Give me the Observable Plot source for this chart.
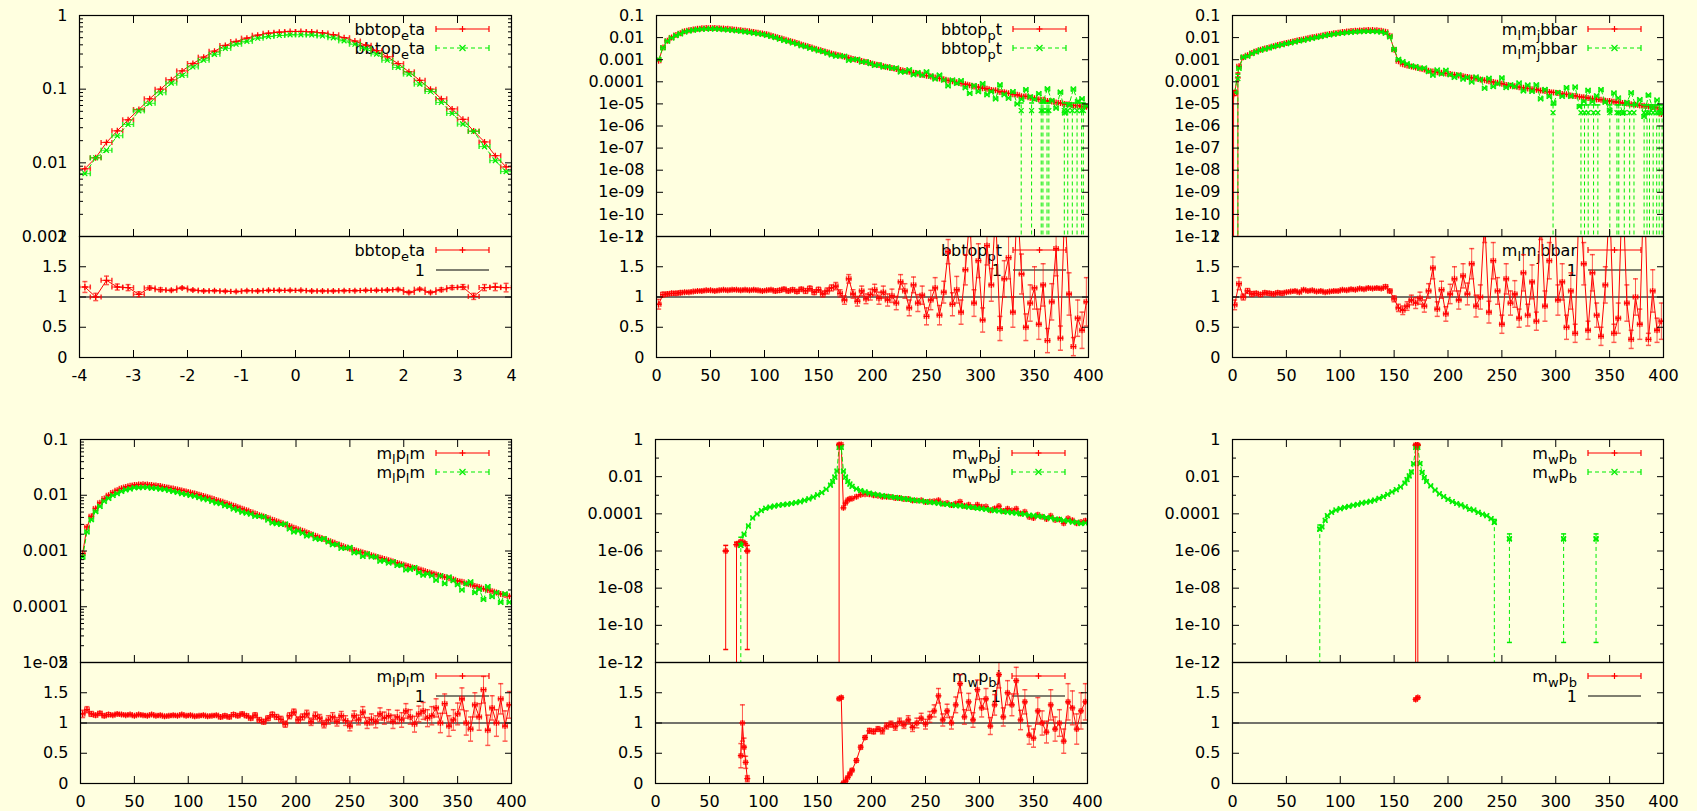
<!DOCTYPE html>
<html>
<head>
<meta charset="utf-8">
<script src="https://cdn.jsdelivr.net/npm/d3@7"></script>
<script src="https://cdn.jsdelivr.net/npm/@observablehq/plot@0.6"></script>
<style>
  html, body { margin: 0; padding: 0; background: #ffffe0; }
  #chart { position: relative; width: 1697px; height: 811px; overflow: hidden; background: #ffffe0; }
  #chart svg { position: absolute; overflow: visible; }
</style>
</head>
<body>
<div id="chart"></div>
<script>
// ---------------- tick values / labels ----------------
const xTicksEta = [-4, -3, -2, -1, 0, 1, 2, 3, 4];
const xTicksPt = [0, 50, 100, 150, 200, 250, 300, 350, 400];
const ratioTicks = [0, 0.5, 1, 1.5, 2];
const yTicks1 = [1, 0.1, 0.01, 0.001];
const yTicks2 = [0.1, 0.01, 0.001, 1e-4, 1e-5, 1e-6, 1e-7, 1e-8, 1e-9, 1e-10, 1e-11];
const yTicks4 = [0.1, 0.01, 0.001, 1e-4, 1e-5];
const yTicks5 = [1, 0.01, 1e-4, 1e-6, 1e-8, 1e-10, 1e-12];
const yMinor5 = [0.1, 1e-3, 1e-5, 1e-7, 1e-9, 1e-11];
const legendNames = ["bbtop_{e}ta", "bbtop_{p}t", "m_{l}m_{j}bbar", "m_{l}p_{l}m", "m_{w}p_{b}j", "m_{w}p_{b}"];

// ---------------- panel 1 : bbtop_eta ----------------
const etaBins = [-3.9,-3.7,-3.5,-3.3,-3.1,-2.9,-2.7,-2.5,-2.3,-2.1,-1.9,-1.7,-1.5,-1.3,-1.1,-0.9,-0.7,-0.5,-0.3,-0.1,
                 0.1,0.3,0.5,0.7,0.9,1.1,1.3,1.5,1.7,1.9,2.1,2.3,2.5,2.7,2.9,3.1,3.3,3.5,3.7,3.9];
const p1Red = [0.0083,0.0117,0.0189,0.0272,0.0384,0.053,0.074,0.1,0.134,0.177,0.223,0.272,0.328,0.392,0.444,0.493,0.54,0.575,0.594,0.607,
               0.607,0.598,0.58,0.548,0.5,0.45,0.395,0.333,0.275,0.222,0.172,0.132,0.1,0.074,0.054,0.039,0.027,0.0192,0.0125,0.0088];
const p1Green = [0.00712,0.0117,0.0148,0.0233,0.0332,0.0507,0.0643,0.0893,0.1207,0.154,0.2,0.247,0.297,0.358,0.407,0.446,0.491,0.518,0.535,0.547,
                 0.547,0.544,0.527,0.498,0.452,0.407,0.356,0.3,0.247,0.197,0.16,0.117,0.093,0.066,0.0468,0.0335,0.0267,0.0166,0.0107,0.0076];
const p1Ratio = [1.165,1.0,1.275,1.165,1.155,1.045,1.15,1.12,1.11,1.15,1.115,1.1,1.105,1.095,1.09,1.105,1.1,1.11,1.11,1.11,
                 1.11,1.1,1.1,1.1,1.105,1.105,1.11,1.11,1.115,1.125,1.075,1.13,1.075,1.12,1.155,1.165,1.01,1.155,1.165,1.155];
const p1Err = [0.09,0.06,0.07,0.05,0.05,0.04,0.03,0.03,0.02,0.02,0.02,0.015,0.015,0.015,0.015,0.015,0.015,0.015,0.015,0.015,
               0.015,0.015,0.015,0.015,0.015,0.015,0.015,0.015,0.015,0.02,0.02,0.02,0.02,0.03,0.03,0.04,0.05,0.05,0.06,0.07];

// ---------------- bins for pt-like panels (centres, width 4) ----------------
const ptBins = d3.range(2, 400, 4);

// ---------------- panel 2 : bbtop_pt ----------------
const p2Red = [
 9e-4,3.6e-3,7.2e-3,1.02e-2,1.3e-2,1.58e-2,1.95e-2,2.15e-2,2.35e-2,2.52e-2,
 2.65e-2,2.72e-2,2.75e-2,2.73e-2,2.68e-2,2.6e-2,2.5e-2,2.4e-2,2.28e-2,2.16e-2,
 2.04e-2,1.92e-2,1.79e-2,1.67e-2,1.55e-2,1.41e-2,1.25e-2,1.1e-2,9.6e-3,8.4e-3,
 7.4e-3,6.5e-3,5.7e-3,4.9e-3,4.3e-3,3.75e-3,3.25e-3,2.85e-3,2.45e-3,2.2e-3,
 1.92e-3,1.72e-3,1.56e-3,1.36e-3,1.22e-3,1.08e-3,9.7e-4,8.7e-4,7.8e-4,7.0e-4,
 6.2e-4,5.7e-4,5.1e-4,4.6e-4,4.2e-4,3.8e-4,3.45e-4,3.1e-4,2.85e-4,2.55e-4,
 2.35e-4,2.1e-4,1.9e-4,1.75e-4,1.55e-4,1.42e-4,1.3e-4,1.15e-4,1.05e-4,9.5e-5,
 8.4e-5,7.8e-5,7.0e-5,6.1e-5,5.8e-5,5.1e-5,4.8e-5,4.3e-5,4.1e-5,3.5e-5,
 3.4e-5,3.0e-5,2.7e-5,2.6e-5,2.2e-5,2.2e-5,1.9e-5,1.8e-5,1.6e-5,1.55e-5,
 1.35e-5,1.3e-5,1.15e-5,1.1e-5,9.8e-6,9.6e-6,8.5e-6,8.3e-6,7.6e-6,7.4e-6];
const p2Green = [
 1.02e-3,3.46e-3,6.9e-3,9.6e-3,1.23e-2,1.48e-2,1.8e-2,1.99e-2,2.16e-2,2.29e-2,
 2.41e-2,2.45e-2,2.48e-2,2.48e-2,2.41e-2,2.32e-2,2.25e-2,2.14e-2,2.04e-2,1.95e-2,
 1.82e-2,1.73e-2,1.6e-2,1.5e-2,1.41e-2,1.27e-2,1.12e-2,1.0e-2,8.6e-3,7.4e-3,
 6.7e-3,5.8e-3,5.2e-3,4.3e-3,3.9e-3,3.3e-3,3.0e-3,2.55e-3,2.33e-3,2.0e-3,
 1.67e-3,1.46e-3,1.47e-3,1.43e-3,9.4e-4,1.03e-3,1.04e-3,7.9e-4,8.0e-4,6.7e-4,
 5.5e-4,5.8e-4,4.7e-4,4.8e-4,4.1e-4,4.2e-4,2.8e-4,2.8e-4,3.5e-4,2.1e-4,
 2.6e-4,2.0e-4,2.8e-4,1.84e-4,1.35e-4,2.0e-4,1.2e-4,6.6e-5,1.2e-4,8.5e-5,
 1.12e-4,5.4e-5,3.0e-5,6.8e-5,3.6e-5,8.2e-5,2.6e-5,3.6e-5,1.7e-5,7.3e-5,
 2.6e-5,1.8e-5,3.6e-5,1.0e-5,1.6e-5,4.4e-5,2.1e-5,1.6e-5,2.9e-5,1.3e-5,
 4.8e-5,1.4e-5,6.4e-6,3.4e-5,3.9e-6,9.1e-6,4.7e-5,1.3e-5,1.7e-5,8.0e-6];
const p2Ratio = [
 0.88,1.04,1.05,1.06,1.06,1.07,1.08,1.08,1.09,1.1,
 1.1,1.11,1.11,1.1,1.11,1.12,1.11,1.12,1.12,1.11,
 1.12,1.11,1.12,1.11,1.1,1.11,1.12,1.1,1.11,1.13,
 1.1,1.12,1.09,1.13,1.1,1.14,1.08,1.12,1.05,1.1,
 1.15,1.18,1.06,0.95,1.3,1.05,0.93,1.1,0.97,1.04,
 1.12,0.98,1.08,0.95,1.02,0.9,1.25,1.1,0.82,1.2,
 0.9,1.03,0.68,0.95,1.15,0.7,1.08,1.75,0.88,1.12,
 0.75,1.45,2.3,0.9,1.6,0.62,1.85,1.2,2.4,0.48,
 1.3,1.65,0.75,2.6,1.38,0.5,0.9,1.15,0.55,1.2,
 0.28,0.92,1.8,0.32,2.5,1.05,0.18,0.65,0.45,0.92];
const p2Err = [
 0.08,0.04,0.03,0.03,0.03,0.03,0.02,0.02,0.02,0.02,
 0.02,0.02,0.02,0.02,0.02,0.02,0.02,0.02,0.02,0.02,
 0.02,0.02,0.02,0.02,0.02,0.02,0.02,0.03,0.03,0.03,
 0.03,0.03,0.03,0.03,0.04,0.04,0.04,0.04,0.05,0.05,
 0.05,0.06,0.06,0.07,0.07,0.07,0.08,0.08,0.08,0.09,
 0.09,0.1,0.1,0.1,0.11,0.11,0.12,0.12,0.13,0.13,
 0.14,0.15,0.14,0.16,0.17,0.16,0.18,0.2,0.19,0.22,
 0.2,0.25,0.3,0.22,0.28,0.2,0.32,0.27,0.35,0.2,
 0.3,0.35,0.25,0.45,0.33,0.22,0.3,0.35,0.25,0.35,
 0.2,0.3,0.45,0.2,0.5,0.35,0.15,0.3,0.3,0.4];
const p2GDropX = [337.7,347.3,356.2,357.8,361.6,363.3,377.6,380.8,385.0,389.4,393.6,395.2];
const p2GDropY = [5e-6,5e-6,5e-6,5e-6,5e-6,5e-6,5e-6,5e-6,5e-6,5e-6,5e-6,5e-6];
const p2GDropHi = [1.1e-5,1.1e-5,1.1e-5,1.1e-5,1.1e-5,1.1e-5,1.1e-5,1.1e-5,1.1e-5,1.1e-5,1.1e-5,1.1e-5];

// ---------------- panel 3 : m_l m_j bbar ----------------
const p3Red = [
 3.0e-5,5.0e-4,1.3e-3,1.6e-3,2.0e-3,2.4e-3,2.8e-3,3.2e-3,3.6e-3,4.1e-3,
 4.6e-3,5.1e-3,5.7e-3,6.3e-3,7.0e-3,7.7e-3,8.5e-3,9.4e-3,1.03e-2,1.12e-2,
 1.22e-2,1.33e-2,1.45e-2,1.56e-2,1.67e-2,1.78e-2,1.88e-2,1.97e-2,2.05e-2,2.12e-2,
 2.16e-2,2.18e-2,2.18e-2,2.14e-2,2.05e-2,1.85e-2,1.2e-2,2.8e-3,8.5e-4,6.3e-4,
 5.5e-4,4.9e-4,4.4e-4,4.0e-4,3.6e-4,3.2e-4,2.9e-4,2.7e-4,2.55e-4,2.4e-4,
 2.25e-4,2.1e-4,1.95e-4,1.8e-4,1.66e-4,1.52e-4,1.4e-4,1.28e-4,1.17e-4,1.07e-4,
 9.8e-5,9.0e-5,8.2e-5,7.2e-5,6.6e-5,6.3e-5,5.7e-5,5.4e-5,5.0e-5,4.6e-5,
 4.4e-5,4.0e-5,3.8e-5,3.5e-5,3.3e-5,3.1e-5,2.8e-5,2.7e-5,2.4e-5,2.3e-5,
 2.1e-5,2.0e-5,1.85e-5,1.75e-5,1.6e-5,1.55e-5,1.4e-5,1.35e-5,1.25e-5,1.2e-5,
 1.1e-5,1.05e-5,9.6e-6,9.2e-6,8.5e-6,8.2e-6,7.6e-6,7.2e-6,6.8e-6,3.5e-6];
const p3Green = [
 3.4e-5,4.1e-4,1.3e-3,1.45e-3,1.9e-3,2.26e-3,2.7e-3,3.0e-3,3.4e-3,3.9e-3,
 4.3e-3,4.8e-3,5.3e-3,5.8e-3,6.4e-3,7.1e-3,7.6e-3,8.5e-3,9.3e-3,1.03e-2,
 1.11e-2,1.23e-2,1.33e-2,1.42e-2,1.52e-2,1.59e-2,1.69e-2,1.74e-2,1.83e-2,1.86e-2,
 1.91e-2,1.9e-2,1.91e-2,1.86e-2,1.8e-2,1.58e-2,1.09e-2,2.9e-3,1.04e-3,8.1e-4,
 6.5e-4,5.2e-4,4.9e-4,4.1e-4,4.2e-4,2.9e-4,2.0e-4,3.4e-4,2.3e-4,3.3e-4,
 2.1e-4,1.6e-4,2.05e-4,1.33e-4,1.58e-4,9.8e-5,1.65e-4,1.28e-4,5.1e-5,1.43e-4,
 6.1e-5,8.2e-5,1.5e-4,5.5e-5,7.3e-5,6.0e-5,8.8e-5,3.9e-5,7.1e-5,3.7e-5,
 7.3e-5,1.7e-5,4.5e-5,2.2e-5,1.1e-5,3.3e-5,2.2e-5,5.4e-5,2.2e-5,5.8e-5,
 7.5e-6,1.3e-5,4.1e-5,1.25e-5,2.3e-5,4.4e-5,1.2e-5,5.2e-6,3.1e-5,1.85e-5,
 3.8e-6,1.17e-5,3.2e-5,9.2e-6,1.55e-5,2.7e-6,2.5e-5,6.5e-6,1.5e-5,5.8e-6];
const p3Ratio = [
 0.87,1.22,1.0,1.1,1.05,1.06,1.04,1.07,1.06,1.05,
 1.07,1.06,1.08,1.09,1.1,1.08,1.12,1.1,1.11,1.09,
 1.1,1.08,1.09,1.1,1.1,1.12,1.11,1.13,1.12,1.14,
 1.13,1.15,1.14,1.15,1.14,1.17,1.1,0.97,0.82,0.78,
 0.85,0.95,0.9,0.98,0.85,1.1,1.48,0.8,1.12,0.72,
 1.05,1.3,0.95,1.35,1.05,1.55,0.85,1.0,2.3,0.75,
 1.6,1.1,0.55,1.3,0.9,1.05,0.65,1.4,0.7,1.25,
 0.6,2.4,0.85,1.6,3.0,0.95,1.25,0.5,1.1,0.4,
 2.8,1.55,0.45,1.4,0.7,0.35,1.2,2.6,0.4,0.65,
 2.9,0.9,0.3,1.0,0.55,3.0,0.3,1.1,0.45,0.6];
const p3Err = [
 0.08,0.1,0.05,0.04,0.04,0.03,0.03,0.03,0.03,0.03,
 0.03,0.03,0.02,0.02,0.02,0.02,0.02,0.02,0.02,0.02,
 0.02,0.02,0.02,0.02,0.02,0.02,0.02,0.02,0.02,0.02,
 0.02,0.02,0.02,0.02,0.02,0.03,0.03,0.05,0.06,0.07,
 0.07,0.08,0.09,0.1,0.1,0.12,0.18,0.12,0.14,0.12,
 0.16,0.2,0.15,0.2,0.18,0.25,0.18,0.2,0.4,0.18,
 0.3,0.22,0.15,0.25,0.2,0.22,0.15,0.3,0.18,0.28,
 0.15,0.45,0.25,0.3,0.5,0.25,0.3,0.2,0.3,0.15,
 0.5,0.35,0.15,0.3,0.2,0.15,0.3,0.5,0.15,0.25,
 0.5,0.3,0.15,0.3,0.25,0.5,0.1,0.35,0.2,0.3];
const p3GDropX = [5,297.5,323.4,326.7,330.1,335.1,339.1,350.2,356.8,358.5,363.6,368.6,372.6,382.0,384.7,387.0,390.4,393.7,396.0,398.7];
const p3GDropY = [1.4e-4,4e-6,4e-6,4e-6,4e-6,4e-6,4e-6,4e-6,4e-6,4e-6,4e-6,4e-6,4e-6,4e-6,4e-6,4e-6,4e-6,4e-6,4e-6,4e-6];
const p3GDropHi = [2.2e-4,9e-6,9e-6,9e-6,9e-6,9e-6,9e-6,9e-6,9e-6,9e-6,9e-6,9e-6,9e-6,9e-6,9e-6,9e-6,9e-6,9e-6,9e-6,9e-6];
const p3RDropX = [1, 5];
const p3RDropY = [2.4e-5, 1.5e-4];
const p3RDropHi = [4e-5, 2.5e-4];

// ---------------- panel 4 : m_l p_l m ----------------
const p4Red = [
 9e-4,2.7e-3,4.2e-3,5.8e-3,7.3e-3,8.7e-3,1.0e-2,1.12e-2,1.23e-2,1.33e-2,
 1.41e-2,1.48e-2,1.53e-2,1.56e-2,1.57e-2,1.56e-2,1.53e-2,1.5e-2,1.46e-2,1.41e-2,
 1.37e-2,1.32e-2,1.27e-2,1.22e-2,1.17e-2,1.12e-2,1.07e-2,1.02e-2,9.7e-3,9.2e-3,
 8.7e-3,8.2e-3,7.8e-3,7.3e-3,6.9e-3,6.5e-3,6.1e-3,5.7e-3,5.4e-3,5.0e-3,
 4.7e-3,4.4e-3,4.15e-3,3.9e-3,3.65e-3,3.4e-3,3.2e-3,3.0e-3,2.8e-3,2.6e-3,
 2.45e-3,2.3e-3,2.15e-3,2.0e-3,1.87e-3,1.75e-3,1.64e-3,1.53e-3,1.43e-3,1.34e-3,
 1.25e-3,1.17e-3,1.1e-3,1.04e-3,9.9e-4,9.4e-4,8.9e-4,8.4e-4,8.0e-4,7.6e-4,
 7.2e-4,6.8e-4,6.5e-4,6.1e-4,5.8e-4,5.5e-4,5.2e-4,4.95e-4,4.7e-4,4.45e-4,
 4.2e-4,4.0e-4,3.8e-4,3.6e-4,3.4e-4,3.25e-4,3.1e-4,2.9e-4,2.8e-4,2.6e-4,
 2.5e-4,2.35e-4,2.25e-4,2.1e-4,2.0e-4,1.9e-4,1.8e-4,1.7e-4,1.62e-4,1.55e-4];
const p4Green = [
 7.8e-4,2.2e-3,3.65e-3,5.1e-3,6.3e-3,7.8e-3,8.8e-3,9.9e-3,1.07e-2,1.17e-2,
 1.25e-2,1.3e-2,1.37e-2,1.37e-2,1.39e-2,1.39e-2,1.34e-2,1.34e-2,1.29e-2,1.27e-2,
 1.22e-2,1.17e-2,1.13e-2,1.07e-2,1.04e-2,9.9e-3,9.6e-3,9.1e-3,8.6e-3,8.3e-3,
 7.8e-3,7.3e-3,7.1e-3,6.5e-3,6.3e-3,5.7e-3,5.4e-3,5.0e-3,4.8e-3,4.6e-3,
 4.2e-3,4.2e-3,4.1e-3,3.6e-3,3.2e-3,3.1e-3,3.0e-3,3.05e-3,2.5e-3,2.2e-3,
 2.3e-3,2.1e-3,1.87e-3,1.96e-3,1.67e-3,1.62e-3,1.67e-3,1.46e-3,1.3e-3,1.31e-3,
 1.12e-3,1.13e-3,1.16e-3,9.3e-4,9.4e-4,8.0e-4,8.9e-4,7.9e-4,7.8e-4,6.6e-4,
 6.7e-4,6.1e-4,6.4e-4,5.5e-4,5.5e-4,4.6e-4,4.7e-4,5.05e-4,4.1e-4,3.7e-4,
 3.9e-4,3.6e-4,3.0e-4,3.6e-4,2.6e-4,3.4e-4,2.95e-4,2.5e-4,2.0e-4,2.6e-4,
 2.8e-4,1.8e-4,2.05e-4,1.35e-4,2.3e-4,1.52e-4,1.8e-4,1.2e-4,1.7e-4,1.2e-4];
const p4Ratio = [
 1.15,1.22,1.15,1.13,1.16,1.12,1.14,1.13,1.15,1.14,
 1.13,1.14,1.12,1.14,1.13,1.12,1.14,1.12,1.13,1.11,
 1.12,1.13,1.12,1.14,1.12,1.13,1.11,1.12,1.13,1.11,
 1.12,1.13,1.1,1.12,1.1,1.14,1.12,1.15,1.12,1.08,
 1.13,1.05,1.02,1.08,1.14,1.1,1.06,0.98,1.12,1.18,
 1.05,1.1,1.15,1.02,1.12,1.08,0.98,1.05,1.1,1.02,
 1.12,1.04,0.95,1.12,1.05,1.18,1.0,1.06,1.02,1.15,
 1.08,1.12,1.02,1.1,1.05,1.2,1.1,0.98,1.15,1.2,
 1.08,1.12,1.25,1.0,1.32,0.95,1.05,1.15,1.4,1.0,
 0.9,1.3,1.1,1.55,0.88,1.25,1.0,1.4,0.95,1.3];
const p4Err = [
 0.06,0.05,0.04,0.03,0.03,0.03,0.03,0.02,0.02,0.02,
 0.02,0.02,0.02,0.02,0.02,0.02,0.02,0.02,0.02,0.02,
 0.02,0.02,0.02,0.02,0.02,0.02,0.02,0.02,0.02,0.02,
 0.02,0.02,0.03,0.03,0.03,0.03,0.03,0.03,0.03,0.03,
 0.04,0.04,0.04,0.04,0.04,0.04,0.05,0.05,0.05,0.05,
 0.05,0.05,0.06,0.06,0.06,0.06,0.06,0.07,0.07,0.07,
 0.07,0.08,0.08,0.08,0.08,0.09,0.09,0.09,0.1,0.1,
 0.1,0.1,0.11,0.11,0.12,0.12,0.12,0.13,0.13,0.14,
 0.14,0.15,0.15,0.16,0.16,0.17,0.17,0.18,0.18,0.2,
 0.2,0.2,0.22,0.22,0.25,0.2,0.22,0.25,0.25,0.22];

// ---------------- panel 5 : m_w p_b j ----------------
const tailBins = d3.range(182, 399, 4);
const p5RedX = [65,70,75,77,79,81,83,85,120,170,172,174,176,178,180, ...tailBins];
const p5RedY = [1.0e-6,null,2.2e-6,2.6e-6,3.2e-6,3.0e-6,2.5e-6,1.0e-6,null,0.52,0.53,2.1e-4,3.8e-4,5.5e-4,6.4e-4,
 6.6e-4,8.4e-4,1.08e-3,1.14e-3,1.13e-3,9.9e-4,9.5e-4,8.3e-4,8.4e-4,8.0e-4,
 7.1e-4,7.1e-4,6.3e-4,6.3e-4,5.2e-4,5.2e-4,5.3e-4,4.4e-4,4.6e-4,4.8e-4,
 5.4e-4,3.6e-4,3.8e-4,3.0e-4,3.6e-4,4.5e-4,2.75e-4,3.1e-4,2.3e-4,3.1e-4,
 2.4e-4,2.45e-4,1.57e-4,1.95e-4,2.6e-4,1.43e-4,1.9e-4,1.5e-4,1.87e-4,1.05e-4,
 1.28e-4,6.8e-5,6.0e-5,9.0e-5,7.0e-5,5.3e-5,7.8e-5,4.7e-5,5.0e-5,3.1e-5,
 5.7e-5,4.5e-5,3.15e-5,3.6e-5,4.3e-5];
const p5GreenX = [79,82,86,90,94,98,102,106,110,114,118,122,126,130,134,138,142,146,150,154,158,
                  162,164,166,168,170,172,174,176,178,180, ...tailBins];
const p5GreenY = [2e-6,8e-6,2.2e-5,6e-5,1.0e-4,1.5e-4,2.0e-4,2.3e-4,2.6e-4,2.9e-4,3.1e-4,3.3e-4,3.6e-4,4.0e-4,4.5e-4,5.3e-4,6.4e-4,8.0e-4,1.05e-3,1.4e-3,2.1e-3,
 3.5e-3,5.5e-3,9.5e-3,2.0e-2,0.38,0.38,2.0e-2,9.5e-3,5.5e-3,4.0e-3,
 3.0e-3,2.2e-3,1.8e-3,1.5e-3,1.3e-3,1.15e-3,1.05e-3,9.5e-4,8.8e-4,8.2e-4,
 7.6e-4,7.0e-4,6.5e-4,6.0e-4,5.6e-4,5.2e-4,4.9e-4,4.5e-4,4.2e-4,4.0e-4,
 3.7e-4,3.4e-4,3.2e-4,3.0e-4,2.8e-4,2.7e-4,2.5e-4,2.3e-4,2.2e-4,2.0e-4,
 1.9e-4,1.75e-4,1.65e-4,1.5e-4,1.45e-4,1.3e-4,1.25e-4,1.15e-4,1.1e-4,1.0e-4,
 9.5e-5,8.5e-5,8.0e-5,7.5e-5,7.0e-5,6.2e-5,6.0e-5,5.2e-5,5.0e-5,4.4e-5,
 4.2e-5,3.6e-5,3.5e-5,3.0e-5,3.2e-5];
const p5RatioX = [79,80.5,82,83.5,85,120,170,172,174,176,178,180, ...tailBins];
const p5RatioY = [0.46,1.0,0.6,0.35,0.08,null,1.4,1.42,0.01,0.04,0.1,0.16,
 0.22,0.38,0.6,0.76,0.87,0.86,0.9,0.87,0.95,0.98,
 0.94,1.02,0.97,1.05,0.93,1.0,1.08,0.98,1.1,1.2,
 1.45,1.05,1.2,1.0,1.3,1.65,1.1,1.35,1.05,1.55,
 1.25,1.4,0.95,1.3,1.8,1.1,1.5,1.3,1.7,1.05,
 1.35,0.8,0.75,1.2,1.0,0.85,1.3,0.9,1.0,0.7,
 1.35,1.25,0.9,1.2,1.35];
const p5RatioErr = [0.2,0.3,0.15,0.1,0.05,null,0.02,0.02,0.01,0.01,0.01,0.02,
 0.02,0.03,0.03,0.03,0.04,0.04,0.04,0.05,0.05,0.05,
 0.06,0.06,0.06,0.07,0.07,0.08,0.08,0.08,0.09,0.1,
 0.12,0.1,0.11,0.1,0.13,0.15,0.12,0.14,0.12,0.16,
 0.15,0.17,0.14,0.17,0.22,0.15,0.2,0.18,0.22,0.16,
 0.2,0.15,0.15,0.22,0.2,0.18,0.25,0.2,0.22,0.2,
 0.3,0.28,0.25,0.3,0.3];
const p5RDropX = [65, 75, 85, 170];
const p5RDropY = [1e-6, 2.2e-6, 1e-6, 0.52];
const p5RDropLo = [5e-12, 1e-14, 5e-12, 1e-14];
const p5RDropHi = [2e-6, 3e-6, 2e-6, 0.6];
const p5GDropX = [79];
const p5GDropY = [2e-6];
const p5GDropLo = [1e-14];
const p5GDropHi = [5.5e-6];

// ---------------- panel 6 : m_w p_b ----------------
const p6GreenX = [81,83,86,88,92,96,100,104,108,112,116,120,124,128,132,136,140,144,148,152,156,160,162,164,166,168,170,172,174,176,178,180,
                  184,188,192,196,200,204,208,212,216,220,224,228,232,236,240,243,250,257,282,307.3,322,337.4];
const p6GreenY = [1.5e-5,2.0e-5,4.5e-5,8e-5,1.2e-4,1.6e-4,1.9e-4,2.2e-4,2.5e-4,2.9e-4,3.2e-4,3.8e-4,4.2e-4,4.7e-4,5.5e-4,6.8e-4,8.5e-4,1.1e-3,1.5e-3,2.0e-3,2.8e-3,4.5e-3,7e-3,1.1e-2,1.8e-2,5e-2,0.38,0.38,5e-2,1.7e-2,9e-3,5.5e-3,
                  3.2e-3,1.9e-3,1.2e-3,8.5e-4,6.0e-4,4.6e-4,3.6e-4,3.0e-4,2.4e-4,1.8e-4,1.6e-4,1.2e-4,9.5e-5,8.0e-5,5.5e-5,3.5e-5,null,4.5e-6,null,4.5e-6,null,4.5e-6];
const p6RedX = [170, 172];
const p6RedY = [0.5, 0.5];
const p6RatioX = [170, 172];
const p6RatioY = [1.39, 1.42];
const p6RatioErr = [0.02, 0.02];
const p6RDropX = [170, 172];
const p6RDropY = [0.5, 0.5];
const p6RDropLo = [1e-14, 1e-14];
const p6RDropHi = [0.56, 0.56];
const p6GDropX = [81, 243, 257, 307.3, 337.4];
const p6GDropY = [1.5e-5, 3.5e-5, 4.5e-6, 4.5e-6, 4.5e-6];
const p6GDropLo = [1e-14, 1e-14, 1.2e-11, 1.2e-11, 1.2e-11];
const p6GDropHi = [2.5e-5, 5e-5, 8.3e-6, 8.3e-6, 8.3e-6];

// ================= rendering =================
const RED = "#ff0000", GREEN = "#00ee00";
const FONT = "DejaVu Sans";
const layout = [
  {L: 79,   R: 511,  T: 15,  M: 236, B: 357},
  {L: 656,  R: 1088, T: 15,  M: 236, B: 357},
  {L: 1232, R: 1663, T: 15,  M: 236, B: 357},
  {L: 80,   R: 511,  T: 439, M: 662, B: 783},
  {L: 655,  R: 1087, T: 439, M: 662, B: 783},
  {L: 1232, R: 1663, T: 439, M: 662, B: 783}
];

const gfmt = v => {
  if (v >= 1e-4) return String(+v.toPrecision(2));
  const e = Math.round(-Math.log10(v));
  return "1e-" + (e < 10 ? "0" + e : e);
};
function logMinor(lo, hi) {
  const out = [];
  for (let d = lo; d < hi * 0.999; d *= 10) for (let k = 2; k <= 9; k++) out.push(d * k);
  return out;
}
const pts = (xs, ys) => xs.map((x, i) => ({x, y: ys[i] == null ? null : ys[i]}));
const pts3 = (xs, ys, es) => xs.map((x, i) => ({x, y: ys[i] == null ? null : ys[i], e: es[i]}));
const drops = (xs, ys, los, his, color, dash, sym) =>
  ({data: xs.map((x, i) => ({x, y: ys[i], lo: los ? los[i] : 1e-16, hi: his[i]})), color, dash, sym});

const symPlus = {draw(c, s) { const r = Math.sqrt(s / Math.PI); c.moveTo(-r, 0); c.lineTo(r, 0); c.moveTo(0, -r); c.lineTo(0, r); }};
const symTimes = {draw(c, s) { const r = Math.sqrt(s / Math.PI) * 0.8; c.moveTo(-r, -r); c.lineTo(r, r); c.moveTo(-r, r); c.lineTo(r, -r); }};
const symV = {draw(c, s) { const r = Math.sqrt(s / Math.PI); c.moveTo(0, -r); c.lineTo(0, r); }};
const symH = {draw(c, s) { const r = Math.sqrt(s / Math.PI); c.moveTo(-r, 0); c.lineTo(r, 0); }};

function seriesMarks(data, color, dash, sym, hw, withErr) {
  const v = data.filter(d => d.y != null);
  const m = [
    Plot.line(data, {x: "x", y: "y", stroke: color, strokeWidth: 1, strokeDasharray: dash, clip: true}),
    Plot.link(v, {x1: d => d.x - hw, x2: d => d.x + hw, y1: "y", y2: "y", stroke: color, strokeWidth: 1, strokeOpacity: 0.8, clip: true}),
    Plot.dot(v, {x: d => d.x - hw, y: "y", symbol: symV, r: 2.5, stroke: color, fill: "none", strokeOpacity: 0.8, clip: true}),
    Plot.dot(v, {x: d => d.x + hw, y: "y", symbol: symV, r: 2.5, stroke: color, fill: "none", strokeOpacity: 0.8, clip: true})
  ];
  if (withErr) {
    m.push(
      Plot.ruleX(v, {x: "x", y1: d => d.y - d.e, y2: d => d.y + d.e, stroke: color, strokeOpacity: 0.65, clip: true}),
      Plot.dot(v, {x: "x", y: d => d.y - d.e, symbol: symH, r: 2.5, stroke: color, fill: "none", strokeOpacity: 0.65, clip: true}),
      Plot.dot(v, {x: "x", y: d => d.y + d.e, symbol: symH, r: 2.5, stroke: color, fill: "none", strokeOpacity: 0.65, clip: true})
    );
  }
  m.push(Plot.dot(v, {x: "x", y: "y", symbol: sym, r: 3, stroke: color, fill: "none", strokeWidth: 1.3, clip: true}));
  return m;
}
function dropMarks(dr) {
  return [
    Plot.ruleX(dr.data, {x: "x", y1: "lo", y2: "hi", stroke: dr.color, strokeDasharray: dr.dash, clip: true}),
    Plot.dot(dr.data, {x: "x", y: "hi", symbol: symH, r: 2.5, stroke: dr.color, fill: "none", clip: true}),
    Plot.dot(dr.data, {x: "x", y: "lo", symbol: symH, r: 2.5, stroke: dr.color, fill: "none", clip: true}),
    Plot.dot(dr.data, {x: "x", y: "y", symbol: dr.sym, r: 3, stroke: dr.color, fill: "none", strokeWidth: 1.3, clip: true})
  ];
}

const panels = [
  {xd: [-4, 4], xt: xTicksEta, yd: [1e-3, 1], yt: yTicks1, ym: logMinor(1e-3, 1), hw: 0.1,
   red: pts(etaBins, p1Red), green: pts(etaBins, p1Green), ratio: pts3(etaBins, p1Ratio, p1Err), drops: []},
  {xd: [0, 400], xt: xTicksPt, yd: [1e-11, 0.1], yt: yTicks2, ym: null, hw: 2,
   red: pts(ptBins, p2Red), green: pts(ptBins, p2Green), ratio: pts3(ptBins, p2Ratio, p2Err),
   drops: [drops(p2GDropX, p2GDropY, null, p2GDropHi, GREEN, "4,3", symTimes)]},
  {xd: [0, 400], xt: xTicksPt, yd: [1e-11, 0.1], yt: yTicks2, ym: null, hw: 2,
   red: pts(ptBins, p3Red), green: pts(ptBins, p3Green), ratio: pts3(ptBins, p3Ratio, p3Err),
   drops: [drops(p3RDropX, p3RDropY, null, p3RDropHi, RED, null, symPlus),
           drops(p3GDropX, p3GDropY, null, p3GDropHi, GREEN, "4,3", symTimes)]},
  {xd: [0, 400], xt: xTicksPt, yd: [1e-5, 0.1], yt: yTicks4, ym: logMinor(1e-5, 0.1), hw: 2,
   red: pts(ptBins, p4Red), green: pts(ptBins, p4Green), ratio: pts3(ptBins, p4Ratio, p4Err), drops: []},
  {xd: [0, 400], xt: xTicksPt, yd: [1e-12, 1], yt: yTicks5, ym: yMinor5, hw: 1.5,
   red: pts(p5RedX, p5RedY), green: pts(p5GreenX, p5GreenY), ratio: pts3(p5RatioX, p5RatioY, p5RatioErr),
   drops: [drops(p5RDropX, p5RDropY, p5RDropLo, p5RDropHi, RED, null, symPlus),
           drops(p5GDropX, p5GDropY, p5GDropLo, p5GDropHi, GREEN, "4,3", symTimes)]},
  {xd: [0, 400], xt: xTicksPt, yd: [1e-12, 1], yt: yTicks5, ym: yMinor5, hw: 1.5,
   red: pts(p6RedX, p6RedY), green: pts(p6GreenX, p6GreenY), ratio: pts3(p6RatioX, p6RatioY, p6RatioErr),
   drops: [drops(p6RDropX, p6RDropY, p6RDropLo, p6RDropHi, RED, null, symPlus),
           drops(p6GDropX, p6GDropY, p6GDropLo, p6GDropHi, GREEN, "4,3", symTimes)]}
];

const chart = document.getElementById("chart");

// legend overlay (drawn first, data goes over it)
const ov = d3.select(chart).append("svg").attr("width", 1697).attr("height", 811)
  .style("left", "0px").style("top", "0px");
function legendRow(R, y, label, kind) {
  const t = ov.append("text").attr("x", R - 86).attr("y", y + 6).attr("text-anchor", "end")
    .attr("font-family", FONT).attr("font-size", 16).attr("fill", "#000");
  let cur = 0;
  for (const part of label.split(/(_\{[^}]*\})/)) {
    if (!part) continue;
    const sub = part.startsWith("_{");
    const target = sub ? 5 : 0;
    t.append("tspan").attr("dy", target - cur).attr("font-size", sub ? 13 : 16).text(sub ? part.slice(2, -1) : part);
    cur = target;
  }
  const x1 = R - 75, x2 = R - 22, xm = (x1 + x2) / 2;
  const color = kind === "red" ? RED : kind === "green" ? GREEN : "#000";
  const g = ov.append("g").attr("stroke", color).attr("fill", "none").attr("stroke-width", 1.2);
  g.append("line").attr("x1", x1).attr("x2", x2).attr("y1", y).attr("y2", y)
    .attr("stroke-dasharray", kind === "green" ? "4,3" : null);
  if (kind !== "black") {
    for (const xx of [x1, x2]) g.append("line").attr("x1", xx).attr("x2", xx).attr("y1", y - 3).attr("y2", y + 3);
    if (kind === "red") g.append("path").attr("d", `M${xm},${y - 3}V${y + 3}M${xm - 3},${y}H${xm + 3}`);
    else g.append("path").attr("d", `M${xm - 3},${y - 3}L${xm + 3},${y + 3}M${xm - 3},${y + 3}L${xm + 3},${y - 3}`);
  }
}

function place(svg, left, top) {
  svg.style.position = "absolute";
  svg.style.left = left + "px";
  svg.style.top = top + "px";
  chart.appendChild(svg);
}

panels.forEach((p, i) => {
  const g = layout[i];
  const W = g.R - g.L;
  const mL = 85, mR = 12;
  const name = legendNames[i];
  legendRow(g.R, g.T + 14, name, "red");
  legendRow(g.R, g.T + 33, name, "green");
  legendRow(g.R, g.M + 14, name, "red");
  legendRow(g.R, g.M + 34, "1", "black");

  // ----- main (log) panel -----
  const mT = 10, mB = 12;
  const mainMarks = [
    ...seriesMarks(p.red, RED, null, symPlus, p.hw, false),
    ...seriesMarks(p.green, GREEN, "4,3", symTimes, p.hw, false),
    ...p.drops.flatMap(dropMarks),
    Plot.axisY(p.yt, {anchor: "left", tickSize: 0, tickPadding: 12, tickFormat: gfmt, label: null}),
    Plot.axisY(p.yt, {anchor: "left", tickSize: -7, fill: "none", label: null}),
    Plot.axisY(p.yt, {anchor: "right", tickSize: -7, fill: "none", label: null}),
    Plot.axisX(p.xt, {anchor: "bottom", tickSize: -7, fill: "none", label: null}),
    Plot.axisX(p.xt, {anchor: "top", tickSize: -7, fill: "none", label: null}),
    Plot.frame({stroke: "#000", strokeWidth: 1.2})
  ];
  if (p.ym) {
    mainMarks.push(
      Plot.axisY(p.ym, {anchor: "left", tickSize: -4, fill: "none", label: null}),
      Plot.axisY(p.ym, {anchor: "right", tickSize: -4, fill: "none", label: null})
    );
  }
  const main = Plot.plot({
    width: W + mL + mR, height: (g.M - g.T) + mT + mB,
    marginLeft: mL, marginRight: mR, marginTop: mT, marginBottom: mB,
    style: {background: "transparent", fontFamily: FONT, fontSize: "16px", color: "#000", overflow: "visible"},
    x: {domain: p.xd},
    y: {type: "log", domain: p.yd},
    marks: mainMarks
  });
  place(main, g.L - mL, g.T - mT);

  // ----- ratio panel -----
  const rT = 10, rB = 40;
  const ratio = Plot.plot({
    width: W + mL + mR, height: (g.B - g.M) + rT + rB,
    marginLeft: mL, marginRight: mR, marginTop: rT, marginBottom: rB,
    style: {background: "transparent", fontFamily: FONT, fontSize: "16px", color: "#000", overflow: "visible"},
    x: {domain: p.xd},
    y: {domain: [0, 2]},
    marks: [
      Plot.ruleY([1], {stroke: "#444", strokeWidth: 1.5}),
      ...seriesMarks(p.ratio, RED, null, symPlus, p.hw, true),
      Plot.axisY(ratioTicks, {anchor: "left", tickSize: 0, tickPadding: 12, tickFormat: d => String(d), label: null}),
      Plot.axisY(ratioTicks, {anchor: "left", tickSize: -7, fill: "none", label: null}),
      Plot.axisY(ratioTicks, {anchor: "right", tickSize: -7, fill: "none", label: null}),
      Plot.axisX(p.xt, {anchor: "bottom", tickSize: 0, tickPadding: 12, tickFormat: d => String(d), label: null}),
      Plot.axisX(p.xt, {anchor: "bottom", tickSize: -7, fill: "none", label: null}),
      Plot.frame({stroke: "#000", strokeWidth: 1.2})
    ]
  });
  place(ratio, g.L - mL, g.M - rT);
});
</script>
</body>
</html>
